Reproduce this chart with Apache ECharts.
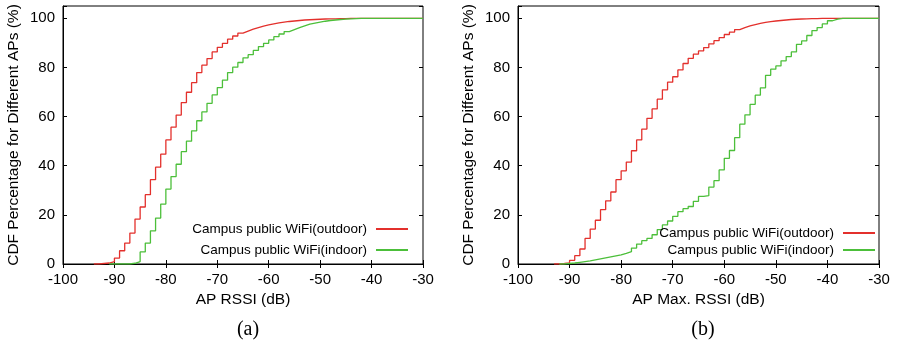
<!DOCTYPE html>
<html>
<head>
<meta charset="utf-8">
<script src="https://cdn.jsdelivr.net/npm/echarts@6/dist/echarts.min.js"></script>
<style>
  html, body { margin: 0; padding: 0; background: #fff; }
  #chart { width: 897px; height: 344px; }
</style>
</head>
<body>
<div id="chart"></div>
<script>
// RSSI bins (dB), each value holds until the next bin
const rssiBins = [
  -95, -94, -93, -92, -91, -90, -89, -88, -87, -86,
  -85, -84, -83, -82, -81, -80, -79, -78, -77, -76,
  -75, -74, -73, -72, -71, -70, -69, -68, -67, -66,
  -65, -64, -63, -62, -61, -60, -59, -58, -57, -56,
  -55, -54, -53, -52, -51, -50, -49, -48, -47, -46,
  -45, -44, -43, -42, -41, -40, -39, -38, -37, -36,
  -35, -34, -33, -32, -31, -30
];

// (a) AP RSSI CDF
const outdoorA = [
  null, 0, 0.2, 0.4, 1.0, 2.4, 5.4, 8.5, 12.6, 18.3,
  23.2, 28.2, 34.3, 39.4, 44.7, 50.5, 55.7, 60.6, 65.7, 69.9,
  73.8, 77.9, 80.9, 83.6, 86.3, 88.2, 89.8, 91.5, 92.8, 94.0,
  94.8, 95.6, 96.2, 96.8, 97.3, 97.7, 98.1, 98.4, 98.7, 98.9,
  99.1, 99.3, 99.4, 99.5, 99.6, 99.7, 99.8, 99.8, 99.9, 99.9,
  100, 100, 100, 100, 100, 100, 100, 100, 100, 100,
  100, 100, 100, 100, 100, 100
];
const indoorA = [
  null, null, null, null, 0, 0, 0, 0, 0.3, 1.0,
  4.9, 8.5, 13.5, 18.7, 24.4, 30.5, 35.6, 40.6, 45.7, 50.0,
  54.2, 58.3, 61.9, 65.4, 68.8, 71.8, 74.8, 77.9, 80.1, 82.0,
  83.9, 85.2, 86.9, 88.5, 89.8, 91.2, 92.5, 93.6, 94.6, 95.4,
  96.2, 96.9, 97.6, 98.0, 98.4, 98.8, 99.1, 99.3, 99.5, 99.7,
  99.8, 99.9, 100, 100, 100, 100, 100, 100, 100, 100,
  100, 100, 100, 100, 100, 100
];

// (b) AP max RSSI CDF
const outdoorB = [
  null, null, 0, 0.2, 0.5, 1.5, 3.4, 6.1, 10.4, 14.2,
  17.8, 22.1, 25.7, 29.3, 34.3, 37.9, 41.5, 46.1, 50.5, 54.9,
  59.3, 63.1, 67.1, 70.9, 74.0, 76.2, 79.0, 81.6, 83.7, 85.4,
  86.7, 88.1, 89.6, 90.9, 92.1, 93.4, 94.4, 95.4, 96.2, 96.9,
  97.4, 97.9, 98.3, 98.6, 98.9, 99.1, 99.3, 99.5, 99.6, 99.7,
  99.8, 99.9, 99.9, 100, 100, 100, 100, 100, 100, 100,
  100, 100, 100, 100, 100, 100
];
const indoorB = [
  null, null, null, 0, 0.2, 0.4, 0.7, 1.0, 1.3, 1.7,
  2.1, 2.5, 2.9, 3.3, 3.7, 4.3, 5.0, 6.5, 8.1, 9.5,
  10.4, 11.9, 14.0, 15.9, 17.5, 19.4, 21.3, 22.5, 23.4, 25.5,
  27.5, 27.8, 31.3, 33.9, 38.3, 43.0, 46.2, 51.4, 56.9, 60.7,
  65.0, 68.7, 71.7, 76.8, 79.3, 80.6, 82.7, 84.4, 86.3, 89.4,
  90.8, 93.0, 95.0, 96.2, 97.7, 99.0, 99.7, 100, 100, 100,
  100, 100, 100, 100, 100, 100
];

const xTitles = ['AP RSSI (dB)', 'AP Max. RSSI (dB)'];
const yTitle = 'CDF Percentage for Different APs (%)';
const captions = ['(a)', '(b)'];
const outdoorName = 'Campus public WiFi(outdoor)';
const indoorName = 'Campus public WiFi(indoor)';

const RED = '#e3302c';
const GREEN = '#4cbf3a';
const FONT = '"Liberation Sans", Arial, sans-serif';

const chart = echarts.init(document.getElementById('chart'), null, { renderer: 'canvas' });

const grids = [
  { left: 63, width: 360, top: 6, height: 258 },
  { left: 518, width: 361, top: 6, height: 258 },
];

const pairs = arr => rssiBins.map((x, i) => [x, arr[i]]);

const xAxes = [];
const yAxes = [];
grids.forEach((g, i) => {
  xAxes.push({
    type: 'value', gridIndex: i, position: 'bottom',
    min: -100, max: -30, interval: 10,
    name: xTitles[i], nameLocation: 'middle', nameGap: 25,
    nameTextStyle: { color: '#000', fontSize: 15.5, fontFamily: FONT },
    axisLine: { show: true, lineStyle: { color: '#000', width: 1 } },
    axisTick: { inside: true, length: 4, lineStyle: { color: '#000' } },
    axisLabel: { color: '#000', fontSize: 15, fontFamily: FONT, margin: 8 },
    splitLine: { show: false },
  });
  xAxes.push({
    type: 'value', gridIndex: i, position: 'top',
    min: -100, max: -30, interval: 10,
    axisLine: { show: false },
    axisTick: { inside: true, length: 4, lineStyle: { color: '#000' } },
    axisLabel: { show: false },
    splitLine: { show: false },
  });
  yAxes.push({
    type: 'value', gridIndex: i, position: 'left',
    min: 0, max: 105, interval: 20,
    name: yTitle, nameLocation: 'middle', nameGap: 41,
    nameTextStyle: { color: '#000', fontSize: 15.5, fontFamily: FONT },
    axisLine: { show: true, lineStyle: { color: '#000', width: 1 } },
    axisTick: { inside: true, length: 4, lineStyle: { color: '#000' } },
    axisLabel: {
      color: '#000', fontSize: 15, fontFamily: FONT, margin: 8,
      formatter: v => (v > 100 ? '' : v),
    },
    splitLine: { show: false },
  });
  yAxes.push({
    type: 'value', gridIndex: i, position: 'right',
    min: 0, max: 105, interval: 20,
    axisLine: { show: false },
    axisTick: { inside: true, length: 4, lineStyle: { color: '#000' } },
    axisLabel: { show: false },
    splitLine: { show: false },
  });
});

const lineSeries = (name, arr, color, gi) => ({
  name, type: 'line', step: 'end',
  xAxisIndex: gi * 2, yAxisIndex: gi * 2,
  data: pairs(arr),
  symbol: 'none',
  lineStyle: { color, width: 1.3 },
  itemStyle: { color },
  animation: false,
});

const legendItem = (name, right, top) => ({
  data: [name], right, top, padding: 0,
  align: 'right', orient: 'vertical',
  icon: 'rect', itemWidth: 32, itemHeight: 2,
  selectedMode: false,
  textStyle: { color: '#000', fontSize: 13.5, fontFamily: FONT, padding: [0, 4, 0, 0] },
});

const option = {
  backgroundColor: '#fff',
  animation: false,
  title: captions.map((c, i) => ({
    text: c,
    left: i === 0 ? 243 : 698,
    top: 315,
    textAlign: 'center',
    textStyle: { color: '#000', fontSize: 20, fontWeight: 'normal', fontFamily: '"Liberation Serif", "DejaVu Serif", serif' },
  })),
  grid: grids.map(g => Object.assign({ show: true, borderColor: '#000', borderWidth: 1, backgroundColor: 'transparent' }, g)),
  legend: [
    legendItem(outdoorName, 489, 222),
    legendItem(indoorName, 489, 243),
    legendItem(outdoorName, 22, 226),
    legendItem(indoorName, 22, 243),
  ],
  xAxis: xAxes,
  yAxis: yAxes,
  series: [
    lineSeries(outdoorName, outdoorA, RED, 0),
    lineSeries(indoorName, indoorA, GREEN, 0),
    lineSeries(outdoorName, outdoorB, RED, 1),
    lineSeries(indoorName, indoorB, GREEN, 1),
  ],
};

chart.setOption(option);
</script>
</body>
</html>
